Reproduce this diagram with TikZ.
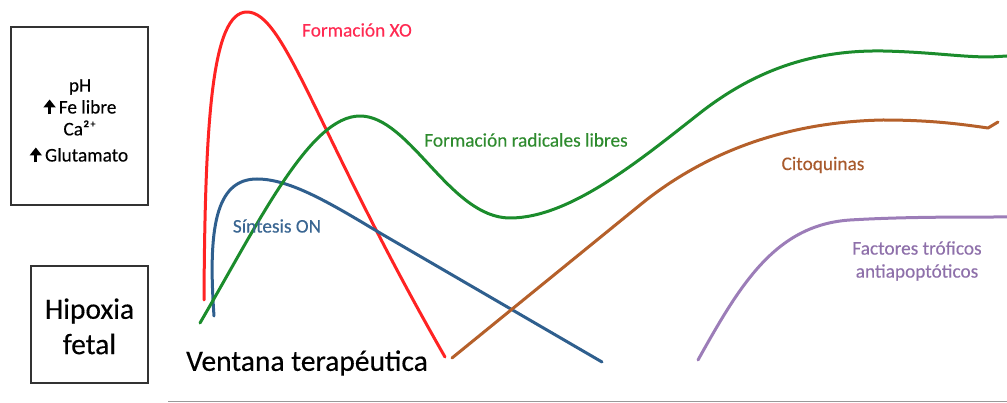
\documentclass[tikz,border=0pt]{standalone}
\usepackage{fontspec}
\setmainfont{Carlito}[FakeBold=0.3]
\usetikzlibrary{arrows.meta}
\definecolor{cred}{HTML}{FF2323}
\definecolor{cblue}{HTML}{2F5F8E}
\definecolor{cgreen}{HTML}{1B8C2C}
\definecolor{cbrown}{HTML}{B5602A}
\definecolor{cpurple}{HTML}{9C7DB8}
\definecolor{tred}{HTML}{FF2A52}
\definecolor{tgreen}{HTML}{2E8B2E}
\definecolor{tblue}{HTML}{3A6692}
\definecolor{tbrown}{HTML}{A85A2C}
\definecolor{tpurple}{HTML}{8E70AA}
\newcommand{\uparr}{\tikz[baseline=0pt]\draw[line width=3pt,-{Triangle[width=12pt,length=8pt]}](0,-1pt)--(0,14pt);}
\begin{document}
\begin{tikzpicture}[x=1pt,y=-1pt,
  curve/.style={line width=3pt,line cap=round,line join=round},
  lbl/.style={inner sep=0pt,font=\fontsize{19.3}{23}\selectfont},
  big/.style={inner sep=0pt,font=\fontsize{29.5}{34}\selectfont},
  frame/.style={draw=black!80,line width=1.3pt}]
\useasboundingbox (0,0) rectangle (1007,403);
% boxes
\node[frame,minimum width=137pt,minimum height=178pt] (topbox) at (79.5,116) {};
\node[frame,minimum width=117pt,minimum height=117pt] (hipbox) at (89.5,324.5) {};
\node[lbl] (ph) at (80,87) {pH};
\node[lbl] (fe) at (80,107) {\uparr\,Fe libre};
\node[lbl] (ca) at (80,128) {Ca²⁺};
\node[lbl] (glu) at (79,155) {\uparr\,Glutamato};
\node[big] (hip) at (89.5,311) {Hipoxia};
\node[big] (fet) at (89.5,344) {fetal};
\node[big] (vent) at (307,363) {Ventana terapéutica};
% baseline
\draw[black!40,line width=1pt] (168,401.5) -- (1007,401.5);
% curves
\draw[curve,cred] (204,300) .. controls (205,120) and (212,12) .. (247,12)
  .. controls (285,12) and (315,130) .. (445,357);
\draw[curve,cblue] (214,316) .. controls (208,230) and (215,179) .. (257,179)
  .. controls (290,179) and (330,203) .. (380,233) -- (602,362);
\draw[curve,cgreen] (200,323) .. controls (260,220) and (310,116) .. (360,116)
  .. controls (410,116) and (450,218) .. (510,218)
  .. controls (570,218) and (640,160) .. (700,113)
  .. controls (760,66) and (820,50) .. (883,51)
  .. controls (930,52) and (960,57) .. (990,57) -- (1007,56);
\draw[curve,cbrown] (452,358) -- (640,205)
  .. controls (700,156) and (780,122) .. (883,120)
  .. controls (930,120) and (960,124) .. (988,128) -- (998,122);
\draw[curve,cpurple] (698,360) .. controls (740,285) and (775,225) .. (850,220)
  .. controls (900,217) and (950,217) .. (1007,217);
% labels
\node[lbl,text=tred] (lxo) at (357,30) {Formación XO};
\node[lbl,text=tgreen] (lrad) at (526,140) {Formación radicales libres};
\node[lbl,text=tblue] (lon) at (277,226) {Síntesis ON};
\node[lbl,text=tbrown] (lcit) at (823,165) {Citoquinas};
\node[lbl,text=tpurple,align=center] (lfac) at (917,261) {Factores tróficos\\antiapoptóticos};
\end{tikzpicture}
\end{document}
